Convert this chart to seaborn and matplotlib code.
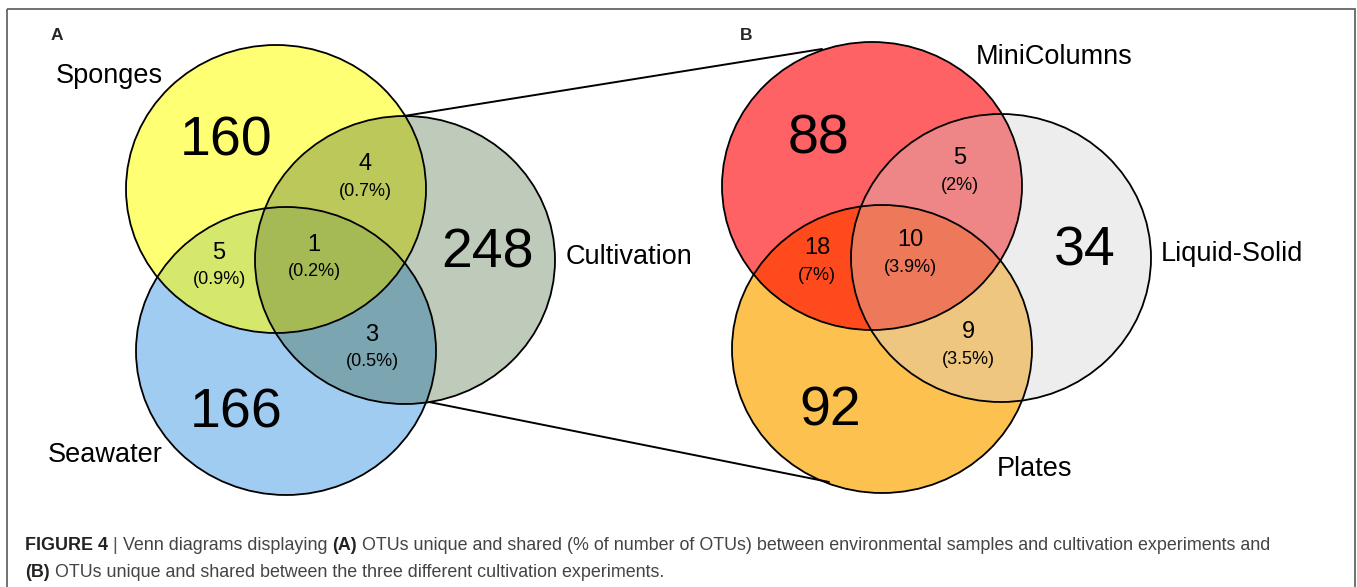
import numpy as np
import matplotlib
matplotlib.use("Agg")
import matplotlib.pyplot as plt
from matplotlib.patches import Ellipse, Polygon, Rectangle
import seaborn as sns

# ---------------- data ----------------
# region order: set0 only, set1 only, set2 only, 0&1, 0&2, 1&2, 0&1&2
regions = [(0,), (1,), (2,), (0, 1), (0, 2), (1, 2), (0, 1, 2)]

sets_a = ["Sponges", "Cultivation", "Seawater"]
counts_a = [160, 248, 166, 4, 5, 3, 1]
pct_a = [None, None, None, "(0.7%)", "(0.9%)", "(0.5%)", "(0.2%)"]
colors_a = ["#FFFF73", "#BECBBA", "#A0CCF2", "#BCC95A", "#D5E86C", "#7BA5B0", "#A5BA55"]

sets_b = ["MiniColumns", "Liquid-Solid", "Plates"]
counts_b = [88, 34, 92, 5, 18, 9, 10]
pct_b = [None, None, None, "(2%)", "(7%)", "(3.5%)", "(3.9%)"]
colors_b = ["#FF6264", "#EDEDED", "#FDC150", "#EE8586", "#FF4A1E", "#EEC67F", "#EE785A"]

caption_1 = [("FIGURE 4 ", "bold", "#222222"), ("| ", "normal", "#555555"),
             ("Venn diagrams displaying ", "normal", "#444444"), ("(A)", "bold", "#222222"),
             (" OTUs unique and shared (% of number of OTUs) between environmental samples and cultivation experiments and",
              "normal", "#444444")]
caption_2 = [("(B)", "bold", "#222222"),
             (" OTUs unique and shared between the three different cultivation experiments.", "normal", "#444444")]

# ---------------- layout ----------------
RX, RY = 150, 144
centers_a = [(276, 189), (405, 260), (286, 351)]
centers_b = [(872, 186), (1001, 258), (882, 349)]
num_pos_a = [(226, 142), (488, 254), (236, 414), (365, 164), (219, 253), (372, 335), (314, 245)]
num_pos_b = [(819, 140), (1085, 252), (830, 412), (960, 158), (817, 248), (968, 332), (910, 240)]
set_pos_a = [(56, 76), (566, 257), (48, 455)]
set_pos_b = [(976, 57), (1161, 254), (997, 469)]

sns.set_theme(style="white")
plt.rcParams["font.family"] = ["Liberation Sans", "DejaVu Sans"]

W, H = 1357, 587
fig = plt.figure(figsize=(W / 100, H / 100), dpi=100)
ax = fig.add_axes([0, 0, 1, 1])
ax.set_xlim(0, W)
ax.set_ylim(H, 0)
ax.axis("off")

# outer frame
ax.add_patch(Rectangle((7, 9), 1348, 700, fill=False, edgecolor="#666666", lw=1.3, zorder=0))


def ellipse_pts(c, n=3000):
    t = np.linspace(0, 2 * np.pi, n, endpoint=False)
    return np.column_stack([c[0] + RX * np.cos(t), c[1] + RY * np.sin(t)])


def inside(p, c, tol=1e-9):
    return ((p[:, 0] - c[0]) / RX) ** 2 + ((p[:, 1] - c[1]) / RY) ** 2 <= 1 + tol


def region_poly(cs):
    pts = []
    for i, c in enumerate(cs):
        p = ellipse_pts(c)
        m = np.ones(len(p), bool)
        for j, d in enumerate(cs):
            if j != i:
                m &= inside(p, d)
        pts.append(p[m])
    pts = np.vstack(pts)
    cen = pts.mean(axis=0)
    ang = np.arctan2(pts[:, 1] - cen[1], pts[:, 0] - cen[0])
    return pts[np.argsort(ang)]


def draw_venn(centers, counts, pcts, colors, names, num_pos, set_pos):
    for k, reg in enumerate(regions):
        cs = [centers[i] for i in reg]
        if len(reg) == 1:
            ax.add_patch(Ellipse(cs[0], 2 * RX, 2 * RY, facecolor=colors[k], edgecolor="none", zorder=1))
        else:
            ax.add_patch(Polygon(region_poly(cs), closed=True, facecolor=colors[k],
                                 edgecolor="none", zorder=1 + len(reg)))
    for c in centers:
        ax.add_patch(Ellipse(c, 2 * RX, 2 * RY, facecolor="none", edgecolor="black", lw=1.3, zorder=6))
    for k, reg in enumerate(regions):
        x, y = num_pos[k]
        if len(reg) == 1:
            ax.text(x, y, str(counts[k]), fontsize=40, ha="center", va="center", color="black", zorder=8)
        else:
            ax.text(x, y, str(counts[k]), fontsize=17, ha="center", va="center", color="black", zorder=8)
            ax.text(x, y + 27, pcts[k], fontsize=13, ha="center", va="center", color="black", zorder=8)
    for name, (x, y) in zip(names, set_pos):
        ax.text(x, y, name, fontsize=19.5, ha="left", va="center", color="black", zorder=8)


draw_venn(centers_a, counts_a, pct_a, colors_a, sets_a, num_pos_a, set_pos_a)
draw_venn(centers_b, counts_b, pct_b, colors_b, sets_b, num_pos_b, set_pos_b)

# zoom connector lines
ax.plot([404, 822], [116, 49], color="black", lw=1.4, zorder=7)
ax.plot([429, 829], [402, 482], color="black", lw=1.4, zorder=7)

# panel letters
ax.text(57, 35, "A", fontsize=12.5, fontweight="bold", ha="center", va="center")
ax.text(746, 35, "B", fontsize=12.5, fontweight="bold", ha="center", va="center")

# caption (pieces laid out left to right)
fig.canvas.draw()
renderer = fig.canvas.get_renderer()


def draw_line(pieces, x0, y, size):
    x = x0
    arts = []
    for txt, wt, col in pieces:
        t = ax.text(x, y, txt, fontsize=size, fontweight=wt, color=col, ha="left", va="baseline")
        bb = t.get_window_extent(renderer=renderer)
        x += bb.width
        arts.append(t)
    return arts, x


def fit_size(pieces, target):
    tmp, xe = draw_line(pieces, 0, -100, 12)
    for a in tmp:
        a.remove()
    return 12 * target / xe


size = fit_size(caption_1, 1275 - 25)
draw_line(caption_1, 25, 550, size)
draw_line(caption_2, 25, 577, size)

fig.savefig("out.png", dpi=100)
